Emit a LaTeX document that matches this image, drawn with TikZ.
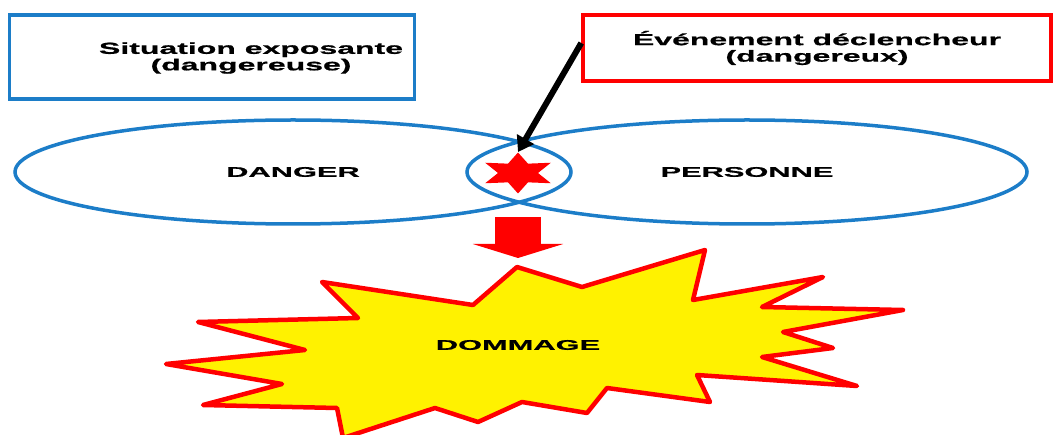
\documentclass[tikz,border=0pt]{standalone}
\usepackage{fontspec}
\newfontfamily\boxfont{Liberation Sans}[FakeStretch=2.0, FakeBold=0.8]
\newfontfamily\tagfont{Liberation Sans}[FakeStretch=2.2, FakeBold=0.8]
\usepackage{tikz}
\usetikzlibrary{arrows.meta, shapes.geometric}
\definecolor{zoneblue}{RGB}{28,125,200}

\begin{document}
\begin{tikzpicture}[x=1pt, y=-1pt,
    topbox/.style={draw, line width=3.5pt, inner sep=0pt},
    toptext/.style={font=\boxfont\bfseries\fontsize{16}{16.5}\selectfont, align=center},
    zone/.style={ellipse, draw=zoneblue, line width=3.5pt, inner sep=0pt, minimum height=104pt,
        font=\tagfont\bfseries\fontsize{14}{16}\selectfont},
    boom/.style={draw=red, fill=yellow, line width=4.5pt, line join=round}
]
\useasboundingbox (0,0) rectangle (1056,435);

% the two causes
\node[topbox, draw=zoneblue, minimum width=405pt, minimum height=84pt] (sit) at (212,57) {};
\node[toptext] (sitlbl) at (251,58) {Situation exposante\\(dangereuse)};
\node[topbox, draw=red, toptext, minimum width=468pt, minimum height=66pt] (evt) at (817,48)
    {Événement déclencheur\\(dangereux)};

% overlapping zones
\node[zone, minimum width=556pt] (danger) at (293,172) {DANGER};
\node[zone, minimum width=560pt] (personne) at (747,172) {PERSONNE};
\node[star, star points=6, star point ratio=1.9, minimum size=41pt, inner sep=0pt,
    xscale=1.85, fill=red] (spark) at (518,173) {};
\draw[line width=6pt, -{Triangle[length=15pt, width=19pt]}] ([yshift=5pt]evt.west) -- (spark.north);

% result
\draw[boom] (517,267) -- (473,305) -- (322,282) -- (358,318) -- (198,322) -- (305,350)
    -- (166,364) -- (282,384) -- (203,405) -- (337,408) -- (343,438) -- (435,408)
    -- (478,422) -- (522,402) -- (587,413) -- (607,388) -- (710,402) -- (697,375)
    -- (857,386) -- (762,357) -- (833,348) -- (783,332) -- (903,310) -- (762,307)
    -- (823,277) -- (693,300) -- (705,250) -- (582,287) -- cycle;
\node[font=\tagfont\bfseries\fontsize{14}{16}\selectfont] (dommage) at (518,345) {DOMMAGE};
\coordinate (drop) at (518,217);
\coordinate (hit) at (518,258);
\draw[red, line width=46pt, -{Triangle[length=14pt, width=90pt]}] (drop) -- (hit);
\end{tikzpicture}
\end{document}
